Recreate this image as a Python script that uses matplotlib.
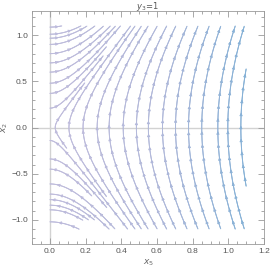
import numpy as np
import matplotlib
matplotlib.use("Agg")
import matplotlib.pyplot as plt
from matplotlib.colors import LinearSegmentedColormap, Normalize
from matplotlib.collections import LineCollection
from matplotlib.patches import FancyArrowPatch
from matplotlib.ticker import MultipleLocator

# ---- data ----
title_text = "$y_3\\!=\\!1$"
x_label = "$x_5$"
y_label = "$x_2$"
coef_a = 0.16                      # field: dx5/dt = a*x2, dx2/dt = x5
x5_range = [0.0, 1.1]
x2_range = [-1.1, 1.1]
right_seeds_x5 = [0.03, 0.107, 0.186, 0.265, 0.332, 0.411, 0.485, 0.552,
                  0.631, 0.704, 0.777, 0.851, 0.941, 0.997, 1.07]
left_seeds_x2 = [1.087, 1.01, 0.967, 0.90, 0.80, 0.70, 0.60, 0.48, 0.37, 0.21,
                 -0.14, -0.34, -0.45, -0.61, -0.72, -0.78, -0.84, -0.89, -1.02]
x_ticks = [0.0, 0.2, 0.4, 0.6, 0.8, 1.0, 1.2]
y_ticks = [-1.0, -0.5, 0.0, 0.5, 1.0]

# ---- figure ----
fig = plt.figure(figsize=(2.70, 2.71), dpi=100)
ax = fig.add_axes([0.1185, 0.0996, 0.8595, 0.8594])
ax.set_xlim(-0.1, 1.2)
ax.set_ylim(-1.26, 1.26)

# pixel scale of data units
bb = ax.get_position()
sx = bb.width * 270 / 1.3
sy = bb.height * 271 / 2.52


def field(p):
    return np.array([coef_a * p[1], p[0]])


def inside(p):
    return (x5_range[0] - 1e-9 <= p[0] <= x5_range[1]) and (x2_range[0] <= p[1] <= x2_range[1])


occupied = {}
CELL = 3.0


def cell_of(p):
    return (int(p[0] * sx // CELL), int(p[1] * sy // CELL))


def trace(p0, sign, line_id, h=0.5, nmax=4000):
    pts = [np.array(p0, float)]
    p = np.array(p0, float)
    for i in range(nmax):
        f = field(p) * sign
        fp = np.array([f[0] * sx, f[1] * sy])
        n = np.hypot(*fp)
        if n < 1e-9:
            break
        mid = p + 0.5 * h * f / n
        f2 = field(mid) * sign
        fp2 = np.array([f2[0] * sx, f2[1] * sy])
        n2 = np.hypot(*fp2)
        p = p + h * f2 / n2
        if not inside(p):
            break
        c = cell_of(p)
        owner = occupied.get(c)
        if owner is not None and owner != line_id and i > 6:
            break
        pts.append(p.copy())
    return pts


cmap = LinearSegmentedColormap.from_list("mma", ["#bfbcdc", "#b0b8da", "#80b0d6"])
norm = Normalize(vmin=0.1, vmax=1.15)

seeds = [(0.0, y) for y in left_seeds_x2] + [(x, 0.0) for x in right_seeds_x5]

all_segs, all_cols = [], []
arrows = []
ARROW_GAP = 13.0
for k, s in enumerate(seeds):
    back = trace(s, -1, k)
    fwd = trace(s, +1, k)
    line = back[::-1] + fwd[1:]
    if len(line) < 3:
        continue
    line = np.array(line)
    for q in line:
        occupied.setdefault(cell_of(q), k)
    segs = np.stack([line[:-1], line[1:]], axis=1)
    mid = 0.5 * (line[:-1] + line[1:])
    spd = np.hypot(coef_a * mid[:, 1], mid[:, 0])
    all_segs.append(segs)
    all_cols.append(spd)
    # arrow positions along arc length (pixels)
    d = np.hypot(np.diff(line[:, 0]) * sx, np.diff(line[:, 1]) * sy)
    cum = np.concatenate([[0], np.cumsum(d)])
    total = cum[-1]
    pos = ARROW_GAP * 0.6
    while pos < total - 3:
        j = np.searchsorted(cum, pos)
        j = min(max(j, 1), len(line) - 1)
        j2 = min(j + 2, len(line) - 1)
        j1 = max(j2 - 3, 0)
        arrows.append((line[j1], line[j2], np.hypot(coef_a * line[j][1], line[j][0])))
        pos += ARROW_GAP

segs = np.concatenate(all_segs)
cols = np.concatenate(all_cols)
lc = LineCollection(segs, cmap=cmap, norm=norm, linewidths=0.7, capstyle="round")
lc.set_array(cols)
ax.add_collection(lc)

for a0, a1, sp in arrows:
    ax.add_patch(FancyArrowPatch(a0, a1, arrowstyle="-|>,head_length=0.5,head_width=0.25",
                                 mutation_scale=3.6, color=cmap(norm(sp)), lw=0.5,
                                 shrinkA=0, shrinkB=0))

# axes lines
ax.axvline(0, color="#d2d2d2", lw=1.0, zorder=0)
ax.axhline(0, color="#d2d2d2", lw=1.0, zorder=0)

ax.set_xticks(x_ticks)
ax.set_yticks(y_ticks)
ax.set_xticklabels([f"{t:.1f}" for t in x_ticks])
ax.set_yticklabels([f"{t:.1f}".replace("-", "\u2212") for t in y_ticks])
ax.xaxis.set_minor_locator(MultipleLocator(0.05))
ax.yaxis.set_minor_locator(MultipleLocator(0.1))
ax.tick_params(which="both", direction="in", top=True, right=True,
               color="#9a9a9a", width=0.6)
ax.tick_params(which="major", length=4, labelsize=6, labelcolor="#555555", pad=3)
ax.tick_params(which="minor", length=2)
for lab in ax.get_xticklabels() + ax.get_yticklabels():
    lab.set_family("Liberation Sans")
for s in ax.spines.values():
    s.set_color("#9a9a9a")
    s.set_linewidth(0.6)

fig.text(bb.x0 + bb.width * (0.55 + 0.1) / 1.3, 1 - 6.5 / 271, title_text,
         fontsize=6, color="#555555", ha="center", va="center")
ax.set_xlabel(x_label, fontsize=6.5, color="#666666", labelpad=2)
ax.set_ylabel(y_label, fontsize=6.5, color="#666666", labelpad=1)

fig.savefig("out.png", dpi=100)
